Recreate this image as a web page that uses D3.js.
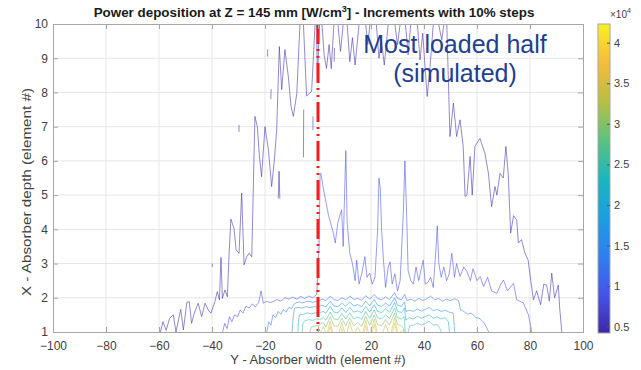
<!DOCTYPE html>
<html>
<head>
<meta charset="utf-8">
<script src="https://cdn.jsdelivr.net/npm/d3@7"></script>
<style>
  body { margin: 0; background: #fff; }
  text { font-family: "Liberation Sans", Arial, sans-serif; }
</style>
</head>
<body>
<svg id="chart" width="641" height="370"></svg>
<script>
// axis ticks and colour bar
const xTicks = [-100, -80, -60, -40, -20, 0, 20, 40, 60, 80, 100];
const yTicks = [1, 2, 3, 4, 5, 6, 7, 8, 9, 10];
const cbTicks = [0.5, 1, 1.5, 2, 2.5, 3, 3.5, 4];
const peakValue = 4.23; // x10^4 W/cm3
const levelFractions = [0.1, 0.2, 0.3, 0.4, 0.5, 0.6, 0.7, 0.8, 0.9];
const parulaStops = ["#3e26a8", "#4554e8", "#2f80f2", "#1b9ee0", "#1ab6bd",
                     "#5dc27e", "#b8bf42", "#f6bb3c", "#f8f020"];

// contour lines: [width, depth] per point
const contour10 = [
  [[-59.5,1.0],[-58.5,1.3],[-57.3,1.05],[-56,1.4],[-54.6,1.5],[-53.6,1.0],[-51.8,1.66],[-50.8,1.06],
   [-49.5,1.86],[-48.6,1.89],[-47.7,1.25],[-46.7,1.55],[-45.2,1.84],[-43.9,1.45],[-42.6,1.84],[-41.4,1.64],
   [-40.4,1.55],[-38.9,1.89],[-38.0,2.18],[-37.2,1.94],[-36.6,3.18],[-36.1,1.98],[-35.1,2.23],[-34.2,2.03],
   [-33.6,3.2],[-32.9,4.3],[-31.7,4.03],[-30.9,3.4],[-29.8,3.3],[-28.8,5.06],[-27.9,2.96],[-26.9,3.2],
   [-26.0,3.3],[-25.0,3.2],[-23.8,7.3],[-22.9,7.0],[-22.1,6.13],[-21.3,5.54],[-20.0,7.0],[-18.7,6.32],
   [-17.5,5.25],[-16.5,6.0],[-15.6,6.9],[-14.6,9.34],[-13.7,8.08],[-12.5,9.25],[-11.2,8.47],[-10.2,7.6],
   [-9.3,7.3],[-8.0,7.97],[-6.8,10.0]],
  [[-5.5,10],[-4.3,7.9],[-2.4,8.03],[-1.1,10]],
  [[-0.6,10],[-0.2,8.4],[0.5,10]],
  [[1.5,10],[2.3,9.1],[3.2,8.7],[4.2,9.4],[5.0,8.7],[6.0,10]],
  [[7.5,10],[8.5,9.2],[9.5,10]],
  [[11,10],[12,8.9],[13,9.6],[14,8.8],[15.5,10]],
  [[18,10],[18.8,9.4],[19.6,10]],
  [[22,10],[23,9.0],[24,9.5],[25,8.8],[26.5,10]],
  [[29,10],[30,9.4],[31,10]],
  [[33,10],[34,9.1],[35,10]],
  [[37.5,10],[38.5,8.95],[39.5,9.73],[41.2,7.88],[42.3,8.76],[43.5,10]],
  [[45.5,10],[46.7,9.54],[47.5,10]],
  [[48.6,10],[49.8,6.71],[51.1,7.69],[52.3,6.71],[53.6,7.2],[54.8,6.42],[55.5,4.96],[56.2,5.0],
   [57.4,6.13],[58.2,5.0],[59.2,6.42],[61.1,6.66],[63.0,6.22],[64.3,5.64],[65.5,4.66],[66.8,5.25],
   [67.5,5.0],[68.7,5.64],[69.9,5.5],[70.9,6.42],[71.8,5.6],[72.7,3.89],[73.8,4.4],[75.0,4.27],
   [75.6,3.6],[76.8,3.7],[78.1,3.3],[79.3,3.1],[80.3,2.5],[81.3,1.94],[82.5,2.2],[84,1.8],[85.2,2.4],
   [86.3,2.37],[87.3,1.9],[88.2,2.72],[89.3,2.0],[90.7,2.37],[91.2,1.7],[92,1.0]],
  [[-29.8,6.85],[-29.8,7.05]],
  [[-19.0,9.05],[-19.0,9.26]],
  [[-17.8,7.8],[-17.7,8.1]],
  [[-5.5,6.1],[-5.4,7.5]],
  [[-1.9,6.9],[-1.9,7.3]],
  [[6.1,8.9],[6.2,9.3]],
  [[-39.9,2.9],[-39.9,3.0]],
  [[-15,4.9],[-14.7,5.7],[-14.4,4.9]]
];

const contour20 = [
  [[-36,1.0],[-35.2,1.25],[-34.3,1.1],[-33.4,1.45],[-32.5,1.3],[-31.5,1.5],[-30.3,1.45],[-29.4,1.64],
   [-28.3,1.55],[-27.2,1.75],[-26,1.7],[-24.8,1.82],[-23.6,1.74],[-22.4,1.86],[-21.5,2.2],[-20.6,1.84],
   [-19.5,1.9],[-18,1.86],[-16.9,1.89],[-15.5,1.95],[-14,1.9],[-12.5,2.0],[-11,1.96],[-9.5,2.02],
   [-8,1.96],[-6.5,2.04],[-5,1.98],[-3.5,2.05],[-2,2.0],[-0.5,2.1],[0.4,3.5],[0.8,5.6],[1.1,5.64],
   [2,5.2],[3,4.8],[4,4.4],[5.8,3.89],[6.5,3.6],[7.5,4.2],[8.9,4.57],[9.5,3.5],[10.2,5.5],[10.5,6.3],
   [11,4.2],[12,3.3],[13,3.0],[14,2.5],[14.6,3.1],[15.5,2.4],[16.5,2.7],[17.7,3.2],[18.5,2.6],
   [19.5,2.72],[20.5,2.4],[21.5,2.6],[22.5,4.0],[23,5.5],[23.5,5.2],[24,4.0],[24.7,3.1],[25.5,2.3],
   [26.5,2.9],[27.2,3.05],[28,2.4],[29,2.7],[30,2.2],[31,2.5],[32.2,4.5],[32.8,6.0],[33.5,4.3],
   [34,2.8],[35,2.5],[36,2.4],[37,2.9],[38,2.5],[39.7,3.1],[40.5,2.4],[41.5,2.45],[42.5,2.6],
   [43.5,2.3],[44.5,3.4],[45,4.1],[45.6,3.0],[46.5,2.6],[47.5,2.9],[48.5,2.5],[49.5,2.7],[50.5,3.3],
   [51.5,2.6],[52.3,3.0],[53.6,2.62],[55,2.9],[56.2,2.77],[57.5,2.5],[58.5,2.85],[60,2.5],[61.2,2.62],
   [62.5,2.33],[64,2.6],[65.5,2.2],[67.5,2.13],[69,2.4],[70,2.52],[71.5,2.2],[73.8,2.42],[75,1.94],
   [77.5,1.85],[79.4,1.5],[80.2,1.2],[80.6,1.0]]
];

const contour30 = [
  [[-19.3,1.0],[-18.6,1.3],[-17.8,1.2],[-17,1.5],[-16,1.42],[-15,1.6],[-14,1.52],[-13,1.66],[-12,1.58],
   [-11,1.72],[-10,1.68],[-9,1.82],[-8,1.86],[-7,1.88],[-6,1.85],[-4,1.9],[-2,1.87],[0,1.9],[1.5,1.96],
   [3,1.92],[4.6,2.05],[6,1.95],[7.5,1.92],[9,2.0],[10.5,1.94],[12,2.05],[13.5,1.95],[15,1.98],
   [16.5,1.93],[18,2.06],[19.5,1.96],[21.2,2.1],[22.5,1.98],[24,1.94],[25.5,2.02],[27,1.95],[28.9,2.15],
   [30,1.98],[31.5,1.94],[32.7,2.1],[33.5,1.92],[35,1.96],[36.5,1.9],[38,1.98],[39.5,1.92],[41,1.97],
   [42.5,2.05],[44,1.94],[45.5,1.98],[47,1.9],[48.5,1.96],[50,1.92],[51.5,1.97],[53,1.92],[53.8,1.65],
   [55,1.6],[56.5,1.52],[58,1.55],[59.5,1.42],[61,1.4],[62.5,1.28],[63.5,1.15],[64.4,1.0]]
];

const contour40 = [
  [[-9.8,1.0],[-9.5,1.3],[-9.2,1.55],[-8.8,1.7],[-7.5,1.72],[-6,1.7],[-4.5,1.74],[-3,1.71],[-1.5,1.74],
   [0,1.73],[1.5,1.78],[3,1.74],[4.6,1.9],[6,1.76],[7.5,1.74],[9,1.85],[10.5,1.75],[12,1.88],[13.5,1.76],
   [15,1.8],[16.5,1.74],[18,1.9],[19.5,1.77],[21.2,1.95],[22.5,1.78],[24,1.75],[25.5,1.84],[27,1.76],
   [28.9,2.0],[30,1.78],[31.5,1.75],[32.7,1.88],[33.2,1.6],[34.5,1.64],[36,1.6],[37.5,1.67],[39,1.61],
   [40.5,1.66],[42,1.72],[43.5,1.62],[45,1.66],[46.5,1.6],[48,1.64],[49.5,1.58],[51,1.55],[51.4,1.2],
   [51.6,1.0]]
];

const contour50 = [
  [[-7.6,1.0],[-7.4,1.3],[-7.0,1.5],[-5.5,1.52],[-4,1.56],[-2.5,1.53],[-1,1.56],[0.5,1.56],[2,1.6],
   [3,1.55],[4.6,1.75],[6,1.58],[7.5,1.56],[9,1.7],[10.5,1.57],[12,1.72],[13.5,1.58],[15,1.62],
   [16.5,1.56],[18,1.75],[19.5,1.58],[21.2,1.8],[22.5,1.6],[24,1.57],[25.5,1.68],[27,1.58],[28.9,1.86],
   [30,1.6],[31.5,1.57],[32.7,1.7],[33.1,1.35],[34.5,1.42],[36,1.38],[37.5,1.46],[39,1.4],[40.5,1.45],
   [42,1.5],[43.5,1.4],[45,1.44],[46.5,1.38],[48,1.42],[49.2,1.3],[49.6,1.0]]
];

const contour60 = [
  [[-6,1.0],[-5.7,1.25],[-5,1.33],[-3.5,1.36],[-2,1.34],[-0.5,1.38],[1,1.37],[2,1.42],[3,1.35],
   [4.6,1.58],[6,1.38],[7.5,1.36],[9,1.54],[10.5,1.38],[12,1.56],[13.5,1.38],[15,1.44],[16.5,1.37],
   [18,1.6],[19.5,1.4],[21.2,1.64],[22.5,1.42],[24,1.38],[25.5,1.5],[27,1.4],[28.9,1.7],[30,1.42],
   [31.5,1.38],[32.5,1.45],[32.9,1.0]],
  [[34,1.0],[34.6,1.18],[36,1.2],[37.5,1.26],[39,1.2],[40.5,1.25],[42,1.32],[43.5,1.2],[45,1.22],
   [46,1.1],[46.5,1.0]]
];

const contour70 = [
  [[-3,1.0],[-2.5,1.15],[-1,1.18],[0.5,1.2],[2,1.28],[3,1.14],[4.6,1.45],[6,1.18],[7.5,1.16],[9,1.4],
   [10.5,1.18],[12,1.42],[13.5,1.18],[15,1.28],[16.5,1.16],[18,1.46],[19.5,1.2],[21.2,1.5],[22.5,1.22],
   [24,1.18],[25.5,1.36],[27,1.2],[28.9,1.56],[30,1.22],[31.5,1.18],[32.3,1.1],[32.6,1.0]]
];

const contour80 = [
  [[1,1],[2,1.16],[2.8,1]],
  [[3.6,1],[4.6,1.32],[5.5,1]],
  [[8,1],[9,1.28],[10,1]],
  [[11,1],[12,1.3],[13,1]],
  [[14,1],[15,1.14],[16,1]],
  [[17,1],[18,1.34],[19,1]],
  [[20,1],[21.2,1.38],[22.3,1]],
  [[24.5,1],[25.5,1.22],[26.5,1]],
  [[27.7,1],[28.9,1.42],[30,1]],
  [[31,1],[32,1.06],[32.5,1]]
];

const contour90 = [
  [[4.1,1],[4.6,1.16],[5.1,1]],
  [[8.6,1],[9,1.1],[9.4,1]],
  [[17.5,1],[18,1.18],[18.5,1]],
  [[20.5,1],[21.2,1.22],[21.9,1]],
  [[28.2,1],[28.9,1.26],[29.6,1]]
];

const contourLevels = [contour10, contour20, contour30, contour40, contour50,
                       contour60, contour70, contour80, contour90];

// ---------------------------------------------------------------
const svg = d3.select('#chart');
const plot = { left: 53, right: 583, top: 24, bottom: 332 };
const cb = { left: 598, right: 610, top: 24, bottom: 333 };

const x = d3.scaleLinear().domain([-100, 100]).range([plot.left, plot.right]);
const y = d3.scaleLinear().domain([1, 10]).range([plot.bottom, plot.top]);

const cMin = levelFractions[0] * peakValue;
const cMax = peakValue;
const color = d3.scaleLinear()
    .domain(parulaStops.map((c, i) => cMin + i * (cMax - cMin) / (parulaStops.length - 1)))
    .range(parulaStops)
    .interpolate(d3.interpolateRgb);

const axisColor = '#a6a6a6';
const textColor = '#404040';

// grid
svg.append('g')
    .selectAll('line')
    .data(xTicks.slice(1, -1))
    .join('line')
    .attr('x1', d => x(d)).attr('x2', d => x(d))
    .attr('y1', plot.top).attr('y2', plot.bottom)
    .attr('stroke', '#e6e6e6').attr('stroke-width', 1);

svg.append('g')
    .selectAll('line')
    .data(yTicks.slice(1, -1))
    .join('line')
    .attr('x1', plot.left).attr('x2', plot.right)
    .attr('y1', d => y(d)).attr('y2', d => y(d))
    .attr('stroke', '#e6e6e6').attr('stroke-width', 1);

svg.append('clipPath').attr('id', 'clip')
    .append('rect')
    .attr('x', plot.left).attr('y', plot.top)
    .attr('width', plot.right - plot.left).attr('height', plot.bottom - plot.top);

// contour lines
const line = d3.line().x(d => x(d[0])).y(d => y(d[1]));
const contourG = svg.append('g').attr('clip-path', 'url(#clip)');

contourLevels.forEach((segments, i) => {
    contourG.append('g')
        .selectAll('path')
        .data(segments)
        .join('path')
        .attr('d', line)
        .attr('fill', 'none')
        .attr('stroke', color(levelFractions[i] * peakValue))
        .attr('stroke-opacity', 0.55)
        .attr('stroke-width', 1)
        .attr('stroke-linejoin', 'round');
});

// symmetry line at Y = 0
svg.append('line')
    .attr('x1', x(0)).attr('x2', x(0))
    .attr('y1', plot.top).attr('y2', plot.bottom)
    .attr('stroke', '#ff1a1a')
    .attr('stroke-width', 3)
    .attr('stroke-dasharray', '20,5,2,5,2,5');

// axes
const xAxis = svg.append('g')
    .attr('transform', `translate(0,${plot.bottom})`)
    .call(d3.axisBottom(x).tickValues(xTicks).tickSize(-5).tickPadding(9));
const yAxis = svg.append('g')
    .attr('transform', `translate(${plot.left},0)`)
    .call(d3.axisLeft(y).tickValues(yTicks).tickSize(-5).tickPadding(5));
svg.append('g')
    .attr('transform', `translate(0,${plot.top})`)
    .call(d3.axisTop(x).tickValues(xTicks).tickSize(-5).tickFormat(''));
svg.append('g')
    .attr('transform', `translate(${plot.right},0)`)
    .call(d3.axisRight(y).tickValues(yTicks).tickSize(-5).tickFormat(''));

svg.selectAll('.domain, .tick line').attr('stroke', axisColor);
[xAxis, yAxis].forEach(a => a.selectAll('text')
    .attr('fill', textColor)
    .style('font-size', '12px')
    .style('font-family', '"Liberation Sans", Arial, sans-serif'));

// labels
svg.append('text')
    .attr('x', (plot.left + plot.right) / 2).attr('y', 364)
    .attr('text-anchor', 'middle')
    .attr('fill', textColor)
    .style('font-size', '13px')
    .text('Y - Absorber width (element #)');

svg.append('text')
    .attr('transform', `translate(31,192) rotate(-90)`)
    .attr('text-anchor', 'middle')
    .attr('fill', textColor)
    .style('font-size', '13.5px')
    .attr('textLength', 208)
    .attr('lengthAdjust', 'spacingAndGlyphs')
    .text('X - Absorber depth (element #)');

const title = svg.append('text')
    .attr('x', (plot.left + plot.right) / 2 - 4).attr('y', 17)
    .attr('text-anchor', 'middle')
    .attr('fill', '#1a1a1a')
    .style('font-size', '13.4px')
    .style('font-weight', 'bold');
title.append('tspan').text('Power deposition at Z = 145 mm [W/cm');
title.append('tspan').attr('dy', -5).style('font-size', '9px').text('3');
title.append('tspan').attr('dy', 5).text('] - Increments with 10% steps');

// annotation
const note = svg.append('text')
    .attr('text-anchor', 'middle')
    .attr('fill', '#1f3f8f')
    .style('font-size', '25px');
note.append('tspan').attr('x', 455).attr('y', 53).text('Most loaded half');
note.append('tspan').attr('x', 455).attr('y', 82).text('(simulated)');

// colour bar
const grad = svg.append('defs').append('linearGradient')
    .attr('id', 'parula')
    .attr('x1', 0).attr('y1', 1).attr('x2', 0).attr('y2', 0);
grad.selectAll('stop')
    .data(parulaStops)
    .join('stop')
    .attr('offset', (d, i) => i / (parulaStops.length - 1))
    .attr('stop-color', d => d);

svg.append('rect')
    .attr('x', cb.left).attr('y', cb.top)
    .attr('width', cb.right - cb.left).attr('height', cb.bottom - cb.top)
    .attr('fill', 'url(#parula)')
    .attr('stroke', axisColor).attr('stroke-width', 1);

const cbScale = d3.scaleLinear().domain([cMin, cMax]).range([cb.bottom, cb.top]);
const cbAxis = svg.append('g')
    .attr('transform', `translate(${cb.right},0)`)
    .call(d3.axisRight(cbScale).tickValues(cbTicks).tickSize(-3).tickPadding(4).tickFormat(d3.format('')));
cbAxis.select('.domain').remove();
cbAxis.selectAll('line').attr('stroke', '#555');
cbAxis.selectAll('text')
    .attr('fill', textColor)
    .style('font-size', '11px')
    .style('font-family', '"Liberation Sans", Arial, sans-serif');

const exp = svg.append('text')
    .attr('x', 610).attr('y', 18)
    .attr('fill', textColor)
    .style('font-size', '10px');
exp.append('tspan').text('\u00d710');
exp.append('tspan').attr('dy', -5).style('font-size', '7px').text('4');
</script>
</body>
</html>
